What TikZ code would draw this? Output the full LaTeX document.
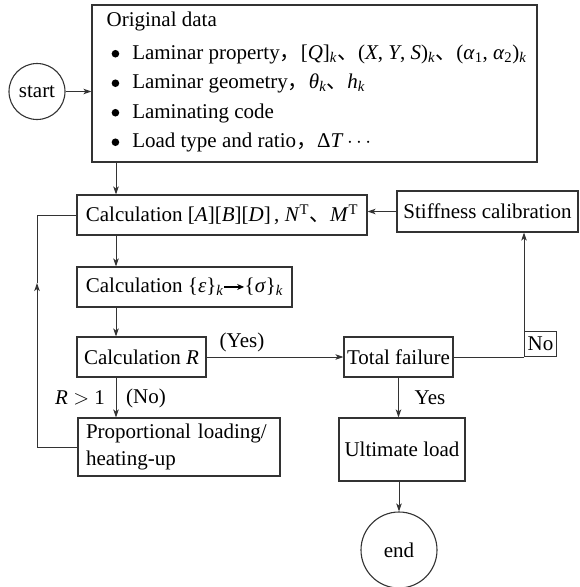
\documentclass[tikz,border=0pt]{standalone}
\usepackage{fontspec}
\setmainfont{Liberation Serif}
\newfontfamily\cjk{Noto Sans CJK SC}
\usetikzlibrary{arrows.meta}
\definecolor{linecol}{HTML}{333333}
% italic symbols and small helpers for the formula-like labels
\newcommand\vi[1]{\textit{#1}}
\newcommand\sbk{\textsubscript{\textit{k}}}
\newcommand\dun{{\cjk 、}}
\newcommand\dou{{\cjk ，}}
\newcommand\itm{\hspace*{5pt}\tikz[baseline=-5.5pt]\fill[black] (0pt,0pt) circle (3.8pt);\hspace{13pt}}
\newcommand\maparrow{\tikz[baseline=-0.6ex]\draw[draw=black,line width=1.1pt,-{Stealth[length=7pt,width=6pt]}](0pt,0pt)--(20pt,0pt);}

\begin{document}
\begin{tikzpicture}[x=1pt,y=-1pt,
  every node/.style={font=\fontsize{21}{25}\selectfont, text=black},
  box/.style={draw=linecol, line width=1.1pt, inner sep=0pt, align=center},
  term/.style={draw=linecol, line width=1.1pt, circle, inner sep=0pt},
  link/.style={draw=linecol, line width=1pt},
  arr/.style={link, -{Stealth[length=8pt,width=5.5pt,inset=2pt]}},
]
\useasboundingbox (0,0) rectangle (580,587);

% terminals
\node[term, minimum size=56pt] (start) at (37,91.5) {start};
\node[term, minimum size=76pt] (end) at (399,550) {end};

% input data box
\node[box, minimum width=445pt, minimum height=157pt] (orig) at (314.5,83.5) {};
\node[anchor=north west, align=left, inner sep=0pt,
      font=\fontsize{21}{29.5}\selectfont] (origtext)
  at ([xshift=15pt,yshift=-7pt]orig.north west)
  {Original data\\[3.5pt]
   \itm Laminar property\dou[\vi{Q}]\sbk\dun(\vi{X}, \vi{Y}, \vi{S})\sbk\dun(\vi{α}\textsubscript{1}, \vi{α}\textsubscript{2})\sbk\\
   \itm Laminar geometry\dou\vi{θ}\sbk\dun\vi{h}\sbk\\
   \itm Laminating code\\
   \itm Load type and ratio\dou Δ\vi{T}\,$\cdots$};

% process boxes
\node[box, minimum width=290pt, minimum height=40pt] (abd) at (222,215)
  {Calculation [\vi{A}][\vi{B}][\vi{D}]\,, \vi{N}\textsuperscript{T}\dun\vi{M}\textsuperscript{T}};
\node[box, minimum width=181pt, minimum height=41pt] (stiff) at (487.5,211.5)
  {Stiffness calibration};
\node[box, minimum width=215pt, minimum height=40pt] (eps) at (184.5,287)
  {Calculation \{\vi{ε}\}\sbk\maparrow\{\vi{σ}\}\sbk};
\node[box, minimum width=129pt, minimum height=40pt] (rcalc) at (141.5,357)
  {Calculation \vi{R}};
\node[box, minimum width=109pt, minimum height=40pt] (fail) at (398.5,357)
  {Total failure};
\node[box, minimum width=202pt, minimum height=58pt, align=left,
      text width=186pt, inner xsep=8pt, font=\fontsize{21}{27}\selectfont] (prop) at (179,447)
  {Proportional loading/\\heating-up};
\node[box, minimum width=126pt, minimum height=63pt] (ult) at (402,449.5)
  {Ultimate load};

% routing points
\coordinate (spine) at (116,0);
\coordinate (corner) at (524,357);
\coordinate (lmid) at (37,283);
\node[draw=linecol, line width=1pt, anchor=south west, inner sep=0pt,
      minimum width=32pt, minimum height=25pt] (no) at (corner) {No};

% connectors
\draw[arr] (start.east) -- (start.east -| orig.west);
\draw[arr] (orig.south -| spine) -- (abd.north -| spine);
\draw[arr] (abd.south -| spine) -- (eps.north -| spine);
\draw[arr] (eps.south -| spine) -- (rcalc.north -| spine);
\draw[arr] (rcalc.south -| spine) -- (prop.north -| spine);
\draw[arr] (stiff.west) -- (stiff.west -| abd.east);
\draw[arr] (rcalc.east) -- (fail.west);
\draw[arr] (fail.south) -- (fail.south |- ult.north);
\draw[arr] (ult.south -| end) -- (end.north);
\draw[link] (fail.east) -- (corner);
\draw[arr] (corner) -- (corner |- stiff.south);
\draw[arr] (prop.west) -| (lmid);
\draw[link] (lmid) |- (abd.west);

% branch labels
\node (yes1) at (242,342) {(Yes)};
\node (rgt) at (80,398) {\vi{R} $>$ 1};
\node (no1) at (146,398) {(No)};
\node (yes2) at (430,398) {Yes};
\end{tikzpicture}
\end{document}
